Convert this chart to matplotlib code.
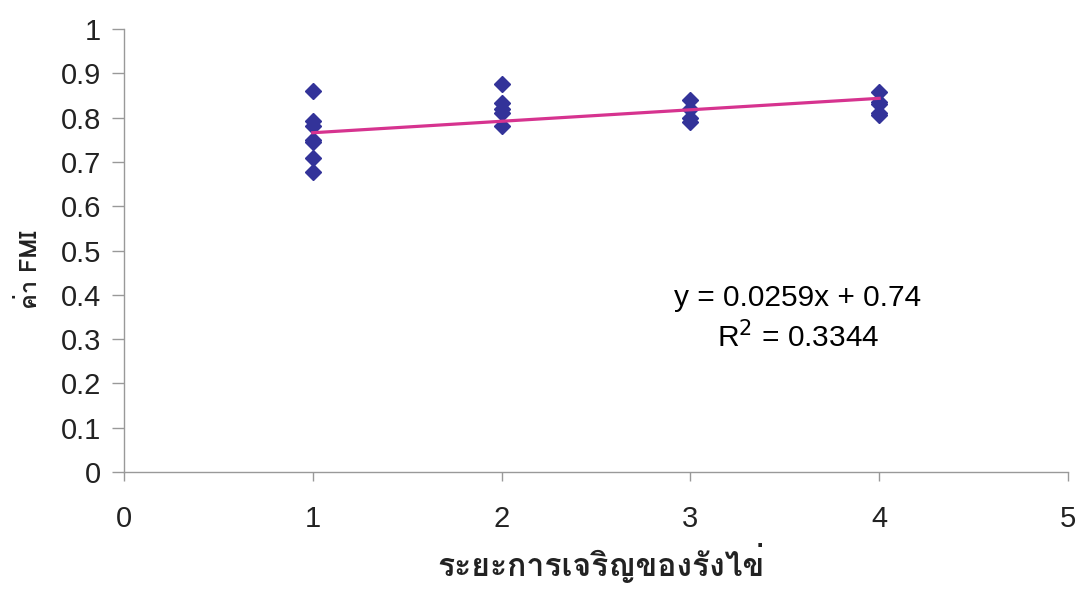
import matplotlib
matplotlib.use("Agg")
import matplotlib.pyplot as plt
from matplotlib import font_manager as fm

# Data
stage_1 = [0.86, 0.792, 0.78, 0.75, 0.745, 0.708, 0.678]
stage_2 = [0.876, 0.832, 0.82, 0.81, 0.78]
stage_3 = [0.839, 0.82, 0.80, 0.79]
stage_4 = [0.857, 0.835, 0.83, 0.81, 0.805]
stages = [1, 2, 3, 4]
slope = 0.0259
intercept = 0.74
r2 = 0.3344
xlabel = "ระยะการเจริญของรังไข่"
ylabel = "ค่า FMI"

# find a font with Thai glyphs
thai_family = None
for f in fm.fontManager.ttflist:
    if "Thai" in f.name or "Loma" in f.name or "Garuda" in f.name or "Tlwg" in f.name:
        thai_family = f.name
        break
label_families = ([thai_family] if thai_family else []) + ["Liberation Sans", "DejaVu Sans"]

plt.rcParams['font.family'] = ['Liberation Sans', 'DejaVu Sans']

fig = plt.figure(figsize=(10.77, 5.89), dpi=100)
ax = fig.add_axes([0.1151, 0.1986, 0.8765, 0.7521])

xs, ys = [], []
for s, vals in zip(stages, [stage_1, stage_2, stage_3, stage_4]):
    xs += [s] * len(vals)
    ys += vals
ax.plot(xs, ys, linestyle='none', marker='D', markersize=7.8,
        color='#333399', markeredgecolor='#333399', zorder=2)

lx = [min(stages), max(stages)]
ly = [slope * v + intercept for v in lx]
ax.plot(lx, ly, color='#D6338F', linewidth=2.3, zorder=3)

ax.text(3.57, 0.393, f"y = {slope}x + {intercept}", ha='center', va='center', fontsize=21.5)
ax.text(3.57, 0.305, f"R$^2$ = {r2}", ha='center', va='center', fontsize=21.5)

ax.set_xlim(0, 5)
ax.set_ylim(0, 1)
ax.set_xticks([0, 1, 2, 3, 4, 5])
ax.set_yticks([i / 10 for i in range(11)])
ax.set_yticklabels(["0", "0.1", "0.2", "0.3", "0.4", "0.5", "0.6", "0.7", "0.8", "0.9", "1"])
ax.tick_params(axis='both', labelsize=21, color='#999999', width=1, direction='out',
               labelcolor='#222222')
ax.tick_params(axis='x', length=6.5, pad=17)
ax.tick_params(axis='y', length=8.5, pad=8)
for side in ['top', 'right']:
    ax.spines[side].set_visible(False)
for side in ['left', 'bottom']:
    ax.spines[side].set_color('#999999')
    ax.spines[side].set_linewidth(1)

ax.set_xlabel(xlabel, fontsize=23, fontweight='bold', family=label_families, color='#222222',
              va='center')
ax.set_ylabel(ylabel, fontsize=17, fontweight='bold', family=label_families, color='#222222',
              va='center')
ax.xaxis.set_label_coords(0.505, -0.205)
ax.yaxis.set_label_coords(-0.1, 0.456)

fig.savefig("out.png", dpi=100)
